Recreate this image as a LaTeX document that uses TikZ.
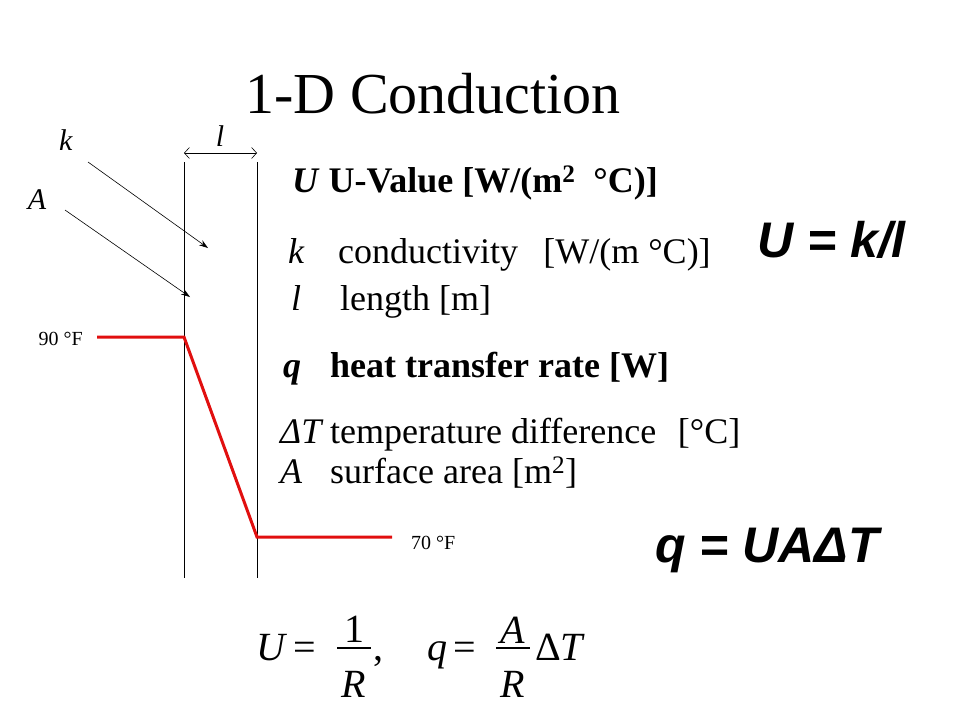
\documentclass[tikz,border=0pt]{standalone}
\usepackage{fontspec}
\setmainfont{Liberation Serif}
\newfontfamily\sansbf{Liberation Sans}
\usetikzlibrary{arrows.meta}
\definecolor{hotred}{RGB}{225,15,15}
\tikzset{lbl/.style={anchor=base west, inner sep=0pt, font=\fontsize{36}{40}\selectfont},
  blbl/.style={lbl, font=\fontsize{36}{40}\selectfont\bfseries},
  flbl/.style={anchor=base, inner sep=0pt, font=\fontsize{40}{46}\selectfont},
  redline/.style={draw=hotred, line width=3pt},
  ptr/.style={-{Stealth[length=9pt,width=6pt]}, line width=.6pt},
  degl/.style={inner sep=0pt, font=\fontsize{20}{24}\selectfont}}

\begin{document}
\begin{tikzpicture}[x=1pt,y=-1pt]
\useasboundingbox (0,0) rectangle (960,720);
\node[inner sep=0pt,anchor=base] (title) at (433,113) {\fontsize{58}{64}\selectfont 1-D Conduction};

\coordinate (wl1) at (184,162); \coordinate (wl2) at (184,578); \coordinate (wr1) at (257,162); \coordinate (wr2) at (257,578);
\draw[line width=.8pt] (wl1) -- (wl2); \draw[line width=.8pt] (wr1) -- (wr2);
\coordinate (dl) at (184,153); \coordinate (dr) at (257,153);
\draw[{Straight Barb[length=5pt,width=11pt]}-{Straight Barb[length=5pt,width=11pt]}, line width=.6pt] (dl) -- (dr);
\node[inner sep=0pt] (labl) at (220,136) {\fontsize{30}{34}\selectfont\textit{l}};

\node[inner sep=0pt] (labk) at (66,140) {\fontsize{30}{34}\selectfont\textit{k}}; \coordinate (ks) at (88,162); \coordinate (kt) at (208,248);
\draw[ptr] (ks) -- (kt);
\node[inner sep=0pt] (labA) at (37,200) {\fontsize{30}{34}\selectfont\textit{A}}; \coordinate (as) at (65,210); \coordinate (at) at (190,297);
\draw[ptr] (as) -- (at);

% temperature profile
\coordinate (t1) at (97,337); \coordinate (t2) at (184,337); \coordinate (t3) at (257,537); \coordinate (t4) at (392,537);
\draw[redline] (t1) -- (t2) -- (t3) -- (t4);
\node[degl, anchor=east] (thot) at (83,339) {90 °F}; \node[degl, anchor=west] (tcold) at (411,543) {70 °F};

% definitions
\node[blbl] (uval) at (292,192) {\textit{U} U-Value [W/(m\textsuperscript{2}\ \ °C)]};
\node[lbl] (symk) at (288,263) {\textit{k}}; \node[lbl] (txtk) at (338,263) {conductivity\hspace{.7em}[W/(m °C)]};
\node[lbl] (syml) at (291,310) {\textit{l}}; \node[lbl] (txtl) at (340,310) {length [m]};
\node[blbl] (symq) at (283,377) {\textit{q}}; \node[blbl] (txtq) at (330,377) {heat transfer rate [W]};
\node[lbl] (symdt) at (280,443) {\textit{ΔT}}; \node[lbl] (txtdt) at (330,443) {temperature difference\hspace{.6em}[°C]};
\node[lbl] (symA) at (280,483) {\textit{A}}; \node[lbl] (txtA) at (330,483) {surface area [m\textsuperscript{2}]};

% formulas
\node[lbl] (ukl) at (757,257) {\fontsize{50}{56}\selectfont\sansbf\bfseries\itshape U = k/l};
\node[lbl] (quat) at (655,562) {\fontsize{50}{56}\selectfont\sansbf\bfseries\itshape q = UAΔT};

\node[flbl, anchor=base west] (ueq) at (256,660) {\textit{U}\,=};
\node[flbl] (num1) at (354,642) {1}; \node[flbl] (den1) at (354,697) {\textit{R}};
\coordinate (b1l) at (337,648); \coordinate (b1r) at (371,648); \draw[line width=1.3pt] (b1l) -- (b1r);
\node[flbl, anchor=base west] (comma) at (373,660) {,};
\node[flbl, anchor=base west] (qeq) at (427,660) {\textit{q}\,=};
\node[flbl] (num2) at (513,643) {\textit{A}}; \node[flbl] (den2) at (513,697) {\textit{R}};
\coordinate (b2l) at (496,648); \coordinate (b2r) at (530,648); \draw[line width=1.3pt] (b2l) -- (b2r);
\node[flbl, anchor=base west] (dT) at (535,660) {Δ\textit{T}};
\end{tikzpicture}
\end{document}
